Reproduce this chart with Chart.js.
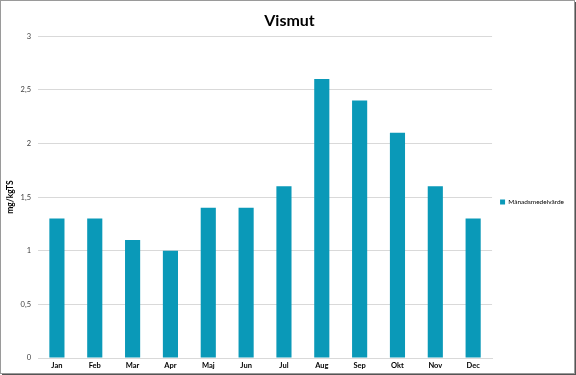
<!DOCTYPE html>
<html>
<head>
<meta charset="utf-8">
<script src="https://cdn.jsdelivr.net/npm/chart.js@4/dist/chart.umd.min.js"></script>
<style>
  html, body { margin: 0; padding: 0; background: #fff; }
  #wrap {
    position: absolute; left: 0; top: 0;
    width: 573px; height: 372px;
    border: 1px solid #9a9a9a;
    box-shadow: 2px 2px 0 #555;
    background: #fff;
  }
</style>
</head>
<body>
<div id="wrap"><canvas id="chart" width="573" height="372"></canvas></div>
<script>
const months = ["Jan", "Feb", "Mar", "Apr", "Maj", "Jun", "Jul", "Aug", "Sep", "Okt", "Nov", "Dec"];
const monthlyMean = [1.3, 1.3, 1.1, 1.0, 1.4, 1.4, 1.6, 2.6, 2.4, 2.1, 1.6, 1.3];
const yTicks = [0, 0.5, 1, 1.5, 2, 2.5, 3];

const fontFamily = "Lato, 'Open Sans', sans-serif";

// Excel centres the legend on the whole chart, not the plot area
const legendShift = {
  id: "legendShift",
  afterLayout(chart) {
    if (chart.legend) {
      chart.legend.top += 10;
      chart.legend.bottom += 10;
    }
  },
};

const ctx = document.getElementById("chart").getContext("2d");
new Chart(ctx, {
  type: "bar",
  data: {
    labels: months,
    datasets: [
      {
        label: "Månadsmedelvärde",
        data: monthlyMean,
        backgroundColor: "#0a99b8",
        barPercentage: 0.4,
        categoryPercentage: 1,
      },
    ],
  },
  options: {
    responsive: false,
    animation: false,
    layout: { padding: { left: 4, right: 0, top: 10, bottom: 0 } },
    scales: {
      x: {
        grid: { display: false, drawTicks: false },
        border: { color: "#d9d9d9" },
        ticks: {
          color: "#000",
          font: { family: fontFamily, size: 7.5, weight: "bold" },
          padding: 3,
        },
      },
      y: {
        min: 0,
        max: 3,
        afterBuildTicks: (axis) => {
          axis.ticks = yTicks.map((v) => ({ value: v }));
        },
        afterFit: (axis) => {
          axis.width = 33;
        },
        grid: { color: "#d9d9d9", drawTicks: false },
        border: { display: false },
        ticks: {
          color: "#404040",
          font: { family: fontFamily, size: 7.5 },
          padding: 7,
          callback: (v) => String(v).replace(".", ","),
        },
        title: {
          display: true,
          text: "mg/kgTS",
          color: "#000",
          font: { family: fontFamily, size: 8.5, weight: "bold" },
          padding: { top: 0, bottom: 0 },
        },
      },
    },
    plugins: {
      title: {
        display: true,
        text: "Vismut",
        color: "#000",
        font: { family: fontFamily, size: 16, weight: "bold" },
        padding: { top: 0, bottom: 6 },
      },
      legend: {
        position: "right",
        labels: {
          color: "#000",
          boxWidth: 5,
          boxHeight: 5,
          padding: 8,
          font: { family: fontFamily, size: 6.5 },
        },
      },
      tooltip: { enabled: false },
    },
  },
  plugins: [legendShift],
});
</script>
</body>
</html>
